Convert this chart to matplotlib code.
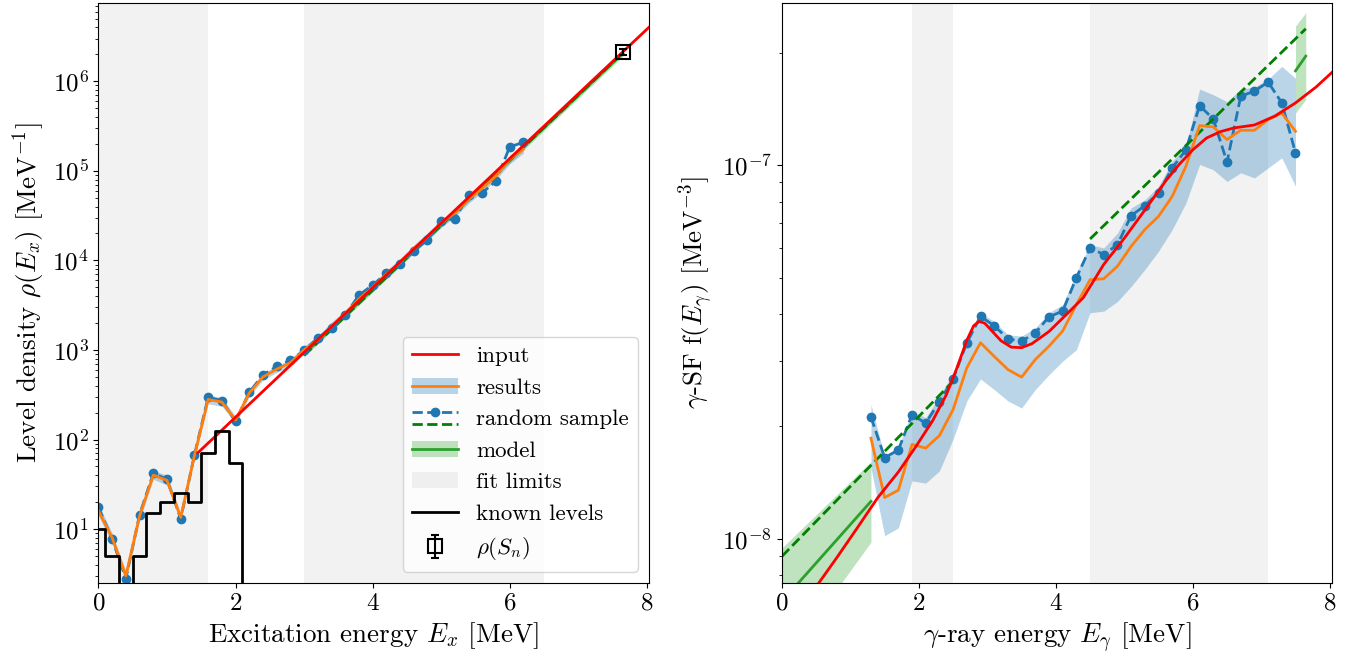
import numpy as np
import matplotlib
matplotlib.use('Agg')
import matplotlib.pyplot as plt
from matplotlib.lines import Line2D
from matplotlib.patches import Patch
from matplotlib.legend_handler import HandlerBase
from matplotlib.ticker import NullFormatter

plt.rcParams['font.family'] = 'cmr10'
plt.rcParams['mathtext.fontset'] = 'cm'
plt.rcParams['axes.formatter.use_mathtext'] = True
plt.rcParams['font.size'] = 18

# ---- level density (left) ----
ex = [0.0, 0.2, 0.4, 0.6, 0.8, 1.0, 1.2, 1.4, 1.6, 1.8, 2.0, 2.2, 2.4, 2.6, 2.8, 3.0,
      3.2, 3.4, 3.6, 3.8, 4.0, 4.2, 4.4, 4.6, 4.8, 5.0, 5.2, 5.4, 5.6, 5.8, 6.0, 6.2]
rho_sample = [17.5, 7.7, 2.8, 14.5, 42, 36, 13, 67, 296, 272, 159, 337, 527, 655, 764, 988,
              1360, 1740, 2450, 4100, 5300, 7200, 9100, 12800, 17000, 27400, 29300, 53700,
              57000, 77000, 186000, 208000]
rho_results = [16, 8, 3.0, 14, 40, 35, 13.5, 66, 280, 262, 165, 330, 500, 610, 720, 1000,
               1300, 1850, 2550, 3700, 5000, 7000, 9500, 13500, 18500, 26000, 34000, 48000,
               64000, 88000, 135000, 175000]
rho_lo = [14, 7, 2.6, 12.5, 36, 31, 12, 60, 250, 235, 150, 300, 460, 560, 660, 900,
          1180, 1650, 2300, 3350, 4550, 6350, 8600, 12200, 16800, 23500, 30500, 43500,
          58000, 80000, 120000, 158000]
rho_hi = [19, 9, 3.4, 16, 45, 40, 15, 74, 315, 295, 182, 365, 550, 670, 790, 1100,
          1430, 2050, 2800, 4100, 5500, 7700, 10500, 14900, 20400, 28600, 37500, 53000,
          70500, 97000, 150000, 193000]

ex_input = [1.45, 3.0, 5.0, 7.0, 8.1]
rho_input = [71, 940, 26000, 726000, 4.5e6]

ex_model = [3.0, 7.65]
rho_model = [900, 2.05e6]
rho_model_lo = [840, 1.9e6]
rho_model_hi = [970, 2.25e6]
rho_model_sample = [870, 2.08e6]

# known levels, 0.2 MeV bins
level_edges = [-0.1, 0.1, 0.3, 0.5, 0.7, 0.9, 1.1, 1.3, 1.5, 1.7, 1.9, 2.1, 2.3]
level_rho = [10, 5, 0, 5, 15, 20, 25, 20, 70, 125, 55, 0]

sn = 7.65
rho_sn = 2.12e6
rho_sn_err = 0.15e6

fit_ex = [(0.0, 1.6), (3.0, 6.5)]

# ---- gamma strength function (right) ----
eg = [1.3, 1.5, 1.7, 1.9, 2.1, 2.3, 2.5, 2.7, 2.9, 3.1, 3.3, 3.5, 3.7, 3.9, 4.1, 4.3,
      4.5, 4.7, 4.9, 5.1, 5.3, 5.5, 5.7, 5.9, 6.1, 6.3, 6.5, 6.7, 6.9, 7.1, 7.3, 7.5]
gsf_sample = [2.12e-8, 1.65e-8, 1.73e-8, 2.15e-8, 2.04e-8, 2.33e-8, 2.68e-8, 3.35e-8,
              3.94e-8, 3.72e-8, 3.43e-8, 3.38e-8, 3.56e-8, 3.93e-8, 4.07e-8, 5.0e-8,
              6.01e-8, 5.77e-8, 6.13e-8, 7.33e-8, 7.80e-8, 8.44e-8, 9.84e-8, 1.10e-7,
              1.445e-7, 1.33e-7, 1.02e-7, 1.53e-7, 1.58e-7, 1.67e-7, 1.47e-7, 1.08e-7]
gsf_results = [1.86e-8, 1.29e-8, 1.35e-8, 1.79e-8, 1.75e-8, 1.89e-8, 2.22e-8, 2.87e-8,
               3.35e-8, 3.08e-8, 2.84e-8, 2.71e-8, 3.02e-8, 3.28e-8, 3.60e-8, 4.24e-8,
               4.94e-8, 4.97e-8, 5.37e-8, 6.07e-8, 6.73e-8, 7.30e-8, 8.26e-8, 9.94e-8,
               1.277e-7, 1.267e-7, 1.172e-7, 1.241e-7, 1.241e-7, 1.325e-7, 1.38e-7, 1.233e-7]
gsf_lo = [1.55e-8, 1.02e-8, 1.07e-8, 1.43e-8, 1.41e-8, 1.52e-8, 1.85e-8, 2.34e-8,
          2.68e-8, 2.51e-8, 2.34e-8, 2.24e-8, 2.51e-8, 2.75e-8, 2.99e-8, 3.21e-8,
          4.03e-8, 4.07e-8, 4.32e-8, 4.74e-8, 5.26e-8, 5.89e-8, 6.73e-8, 7.93e-8,
          1.005e-7, 9.73e-8, 9.05e-8, 9.55e-8, 9.25e-8, 9.84e-8, 1.047e-7, 8.79e-8]
gsf_hi = [2.29e-8, 1.66e-8, 1.75e-8, 2.20e-8, 2.11e-8, 2.41e-8, 2.78e-8, 3.49e-8,
          4.03e-8, 3.82e-8, 3.52e-8, 3.49e-8, 3.67e-8, 4.03e-8, 4.24e-8, 5.15e-8,
          6.13e-8, 6.01e-8, 6.59e-8, 7.69e-8, 8.09e-8, 8.79e-8, 1.025e-7, 1.124e-7,
          1.6e-7, 1.545e-7, 1.48e-7, 1.6e-7, 1.62e-7, 1.70e-7, 1.84e-7, 1.71e-7]

eg_input = [0.5, 0.8, 1.1, 1.4, 1.7, 1.95, 2.2, 2.4, 2.55, 2.7, 2.8, 2.88, 2.96, 3.05,
            3.2, 3.35, 3.5, 3.65, 3.9, 4.15, 4.4, 4.7, 5.0, 5.3, 5.6, 5.8, 6.0, 6.2,
            6.4, 6.6, 6.9, 7.2, 7.5, 7.8, 8.1]
gsf_input = [7.45e-9, 8.9e-9, 1.07e-8, 1.29e-8, 1.51e-8, 1.76e-8, 2.07e-8, 2.43e-8,
             2.85e-8, 3.40e-8, 3.72e-8, 3.82e-8, 3.78e-8, 3.63e-8, 3.39e-8, 3.26e-8,
             3.25e-8, 3.33e-8, 3.59e-8, 3.98e-8, 4.42e-8, 5.43e-8, 6.38e-8, 7.59e-8,
             9.06e-8, 1.005e-7, 1.10e-7, 1.183e-7, 1.23e-7, 1.259e-7, 1.282e-7,
             1.355e-7, 1.469e-7, 1.62e-7, 1.82e-7]

# model extrapolations (low and high side)
eg_model_low = [0.0, 1.3]
gsf_model_low = [6.8e-9, 1.26e-8]
gsf_model_low_lo = [4.6e-9, 9.8e-9]
gsf_model_low_hi = [9.46e-9, 1.61e-8]
eg_model_high = [7.5, 7.65]
gsf_model_high = [1.79e-7, 1.96e-7]
gsf_model_high_lo = [1.38e-7, 1.50e-7]
gsf_model_high_hi = [2.36e-7, 2.56e-7]
eg_sample_low = [0.0, 2.5]
gsf_sample_low = [8.98e-9, 2.64e-8]
eg_sample_high = [4.5, 7.65]
gsf_sample_high = [6.35e-8, 2.32e-7]

fit_eg = [(1.9, 2.5), (4.5, 7.1)]


class StackedHandler(HandlerBase):
    # blue sample line on top, green dashed model below
    def create_artists(self, legend, orig_handle, xdescent, ydescent,
                       width, height, fontsize, trans):
        top, bot = orig_handle
        x0, x1 = -xdescent, width - xdescent
        yt = 0.85 * height - ydescent
        yb = 0.1 * height - ydescent
        l1 = Line2D([x0, x1], [yt, yt], color=top.get_color(), ls='--',
                    lw=top.get_linewidth())
        m1 = Line2D([(x0 + x1) / 2], [yt], color=top.get_color(), marker='o',
                    ms=top.get_markersize(), ls='none')
        l2 = Line2D([x0, x1], [yb, yb], color=bot.get_color(), ls='--',
                    lw=bot.get_linewidth())
        for a in (l1, m1, l2):
            a.set_transform(trans)
        return [l1, m1, l2]


fig = plt.figure(figsize=(13.54, 6.6), dpi=100)
ax1 = fig.add_axes([0.0727, 0.1167, 0.4068, 0.8788])
ax2 = fig.add_axes([0.5775, 0.1167, 0.4066, 0.8788])

for a, b in fit_ex:
    ax1.axvspan(a, b, color='grey', alpha=0.1, lw=0)
ax1.fill_between(ex_model, rho_model_lo, rho_model_hi, color='C2', alpha=0.3, lw=0)
ax1.plot(ex_model, rho_model, color='C2', lw=2)
ax1.plot(ex_model, rho_model_sample, color='g', ls='--', lw=2)
ax1.fill_between(ex, rho_lo, rho_hi, color='C0', alpha=0.3, lw=0)
ax1.plot(ex, rho_sample, color='C0', ls='--', marker='o', lw=2, ms=6)
ax1.plot(ex, rho_results, color='C1', lw=2)
ax1.plot(ex_input, rho_input, color='red', lw=2)
ax1.step(level_edges, level_rho + [level_rho[-1]], where='post', color='k', lw=2)
sn_handle = ax1.errorbar([sn], [rho_sn], yerr=[rho_sn_err], fmt='s', color='k',
                         mfc='none', ms=10, mew=1.5, capsize=3)

ax1.set_yscale('log')
ax1.set_xlim(0, 8.035)
ax1.set_ylim(2.5, 7.5e6)
ax1.set_xlabel(r'Excitation energy $E_x$ [MeV]', fontsize=19.5)
ax1.set_ylabel(r'Level density $\rho(E_x)$ [MeV$^{-1}$]', fontsize=19.5)

h_input = Line2D([], [], color='red', lw=2)
h_results = (Patch(color='C0', alpha=0.3, lw=0), Line2D([], [], color='C1', lw=2))
h_sample = (Line2D([], [], color='C0', ls='--', marker='o', lw=2, ms=6),
            Line2D([], [], color='g', ls='--', lw=2))
h_model = (Patch(color='C2', alpha=0.3, lw=0), Line2D([], [], color='C2', lw=2))
h_fit = Patch(color='grey', alpha=0.1, lw=0)
h_known = Line2D([], [], color='k', lw=2)
ax1.legend([h_input, h_results, h_sample, h_model, h_fit, h_known, sn_handle],
           ['input', 'results', 'random sample', 'model', 'fit limits',
            'known levels', r'$\rho(S_n)$'],
           loc='lower right', fontsize=16.5, handler_map={h_sample: StackedHandler()})

for a, b in fit_eg:
    ax2.axvspan(a, b, color='grey', alpha=0.1, lw=0)
ax2.fill_between(eg_model_low, gsf_model_low_lo, gsf_model_low_hi, color='C2', alpha=0.3, lw=0)
ax2.fill_between(eg_model_high, gsf_model_high_lo, gsf_model_high_hi, color='C2', alpha=0.3, lw=0)
ax2.plot(eg_model_low, gsf_model_low, color='C2', lw=2)
ax2.plot(eg_model_high, gsf_model_high, color='C2', lw=2)
ax2.fill_between(eg, gsf_lo, gsf_hi, color='C0', alpha=0.3, lw=0)
ax2.plot(eg, gsf_sample, color='C0', ls='--', marker='o', lw=2, ms=6)
ax2.plot(eg_sample_low, gsf_sample_low, color='g', ls='--', lw=2)
ax2.plot(eg_sample_high, gsf_sample_high, color='g', ls='--', lw=2)
ax2.plot(eg, gsf_results, color='C1', lw=2)
ax2.plot(eg_input, gsf_input, color='red', lw=2)

ax2.set_yscale('log')
ax2.set_xlim(0, 8.04)
ax2.set_ylim(7.62e-9, 2.72e-7)
ax2.yaxis.set_minor_formatter(NullFormatter())
ax2.set_xlabel(r'$\gamma$-ray energy $E_\gamma$ [MeV]', fontsize=19.5)
ax2.set_ylabel(r'$\gamma$-SF f$(E_\gamma)$ [MeV$^{-3}$]', fontsize=19.5)

for ax in (ax1, ax2):
    ax.set_xticks([0, 2, 4, 6, 8])

fig.savefig('out.png', dpi=100)
